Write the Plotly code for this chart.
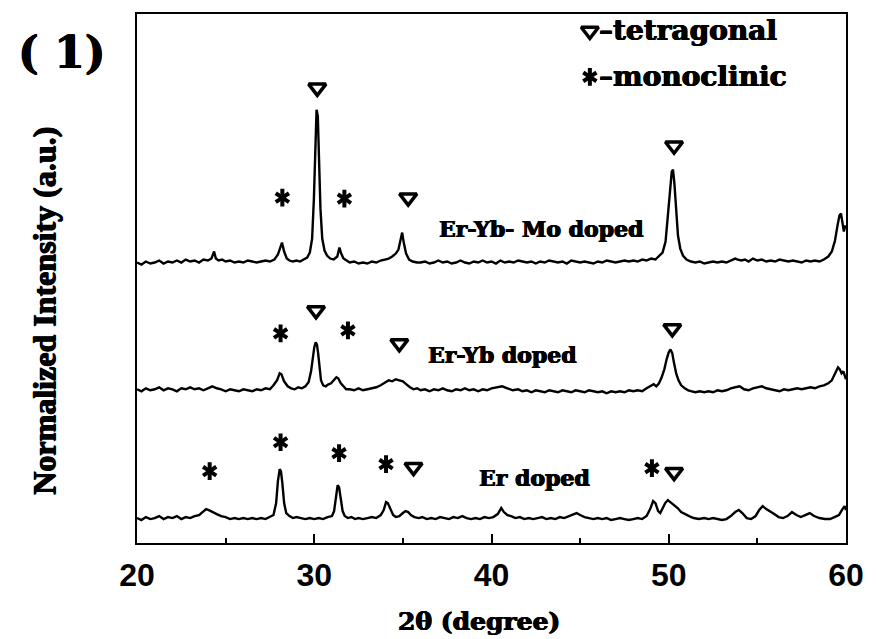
import plotly.graph_objects as go

# ---------------- data ----------------
# y values are in arbitrary "normalized intensity" units (stacked offsets)
er_yb_mo = [(20.0,281),(20.25,279),(20.5,282),(20.75,280),(21.0,281),(21.25,283),(21.5,280),(21.75,282),(22.0,281),(22.25,283),(22.5,281),(22.75,284),(23.0,282),(23.25,283),(23.5,281),(23.75,284),(24.0,283),(24.2,285),(24.35,292),(24.45,285),(24.6,283),(24.8,284),(25.0,282),(25.25,283),(25.5,281),(25.75,282),(26.0,281),(26.25,283),(26.5,282),(26.75,281),(27.0,282),(27.25,283),(27.5,282),(27.75,284),(27.95,289),(28.08,297),(28.18,301),(28.3,292),(28.45,285),(28.6,283),(28.8,282),(29.0,283),(29.2,282),(29.4,284),(29.6,286),(29.75,291),(29.88,305),(29.98,345),(30.06,405),(30.13,434),(30.2,428),(30.27,385),(30.35,335),(30.45,305),(30.58,293),(30.72,288),(30.9,285),(31.1,284),(31.3,287),(31.42,296),(31.52,290),(31.65,285),(31.8,283),(32.0,281),(32.25,282),(32.5,280),(32.75,281),(33.0,280),(33.25,282),(33.5,281),(33.75,283),(34.0,284),(34.2,285),(34.4,287),(34.6,290),(34.75,294),(34.88,304),(34.96,311),(35.05,301),(35.18,290),(35.35,284),(35.55,282),(35.8,281),(36.0,281),(36.25,282),(36.5,280),(36.75,281),(37.0,283),(37.25,281),(37.5,282),(37.75,280),(38.0,281),(38.25,283),(38.5,281),(38.75,280),(39.0,282),(39.25,281),(39.5,283),(39.75,281),(40.0,282),(40.25,280),(40.5,283),(40.75,281),(41.0,282),(41.25,281),(41.5,283),(41.75,282),(42.0,281),(42.25,282),(42.5,280),(42.75,282),(43.0,281),(43.25,283),(43.5,282),(43.75,281),(44.0,282),(44.25,280),(44.5,283),(44.75,282),(45.0,281),(45.25,282),(45.5,281),(45.75,280),(46.0,282),(46.25,281),(46.5,283),(46.75,282),(47.0,281),(47.25,282),(47.5,283),(47.75,282),(48.0,283),(48.25,282),(48.5,284),(48.75,283),(49.0,285),(49.25,284),(49.45,287),(49.65,291),(49.82,302),(49.95,325),(50.07,352),(50.17,372),(50.24,374),(50.32,360),(50.42,330),(50.52,308),(50.65,295),(50.8,288),(51.0,284),(51.25,282),(51.5,281),(51.75,282),(52.0,280),(52.25,281),(52.5,282),(52.75,281),(53.0,282),(53.25,281),(53.5,283),(53.75,285),(53.9,284),(54.1,283),(54.3,284),(54.5,282),(54.75,285),(55.0,283),(55.25,284),(55.5,282),(55.75,283),(56.0,282),(56.25,284),(56.5,283),(56.75,282),(57.0,283),(57.25,282),(57.5,281),(57.75,283),(58.0,282),(58.25,283),(58.5,282),(58.75,284),(59.0,287),(59.2,292),(59.38,303),(59.52,318),(59.63,328),(59.72,330),(59.8,322),(59.88,312),(59.95,318),(60.0,315)]

er_yb = [(20.0,154),(20.25,152),(20.5,155),(20.75,153),(21.0,154),(21.25,156),(21.5,153),(21.75,155),(22.0,154),(22.25,152),(22.5,155),(22.75,154),(23.0,156),(23.25,154),(23.5,155),(23.75,153),(24.0,155),(24.25,157),(24.5,155),(24.75,154),(25.0,152),(25.25,154),(25.5,153),(25.75,152),(26.0,154),(26.25,153),(26.5,152),(26.75,154),(27.0,153),(27.25,155),(27.5,154),(27.7,158),(27.9,163),(28.05,170),(28.15,169),(28.3,162),(28.5,157),(28.7,155),(28.9,154),(29.1,156),(29.3,155),(29.5,157),(29.68,161),(29.82,172),(29.92,186),(30.0,196),(30.08,201),(30.15,199),(30.22,190),(30.3,176),(30.38,163),(30.5,158),(30.65,157),(30.8,159),(30.95,160),(31.1,163),(31.25,166),(31.35,165),(31.5,160),(31.65,157),(31.8,154),(32.0,154),(32.25,153),(32.5,155),(32.75,153),(33.0,154),(33.25,155),(33.5,156),(33.75,158),(34.0,161),(34.2,163),(34.4,162),(34.6,164),(34.8,163),(35.0,162),(35.2,159),(35.4,156),(35.6,154),(35.8,155),(36.0,153),(36.25,154),(36.5,152),(36.75,154),(37.0,153),(37.25,155),(37.5,153),(37.75,152),(38.0,154),(38.25,153),(38.5,155),(38.75,153),(39.0,154),(39.25,152),(39.5,154),(39.75,153),(40.0,155),(40.3,156),(40.6,157),(40.9,155),(41.2,153),(41.5,154),(41.75,152),(42.0,153),(42.25,151),(42.5,153),(42.75,152),(43.0,151),(43.25,153),(43.5,152),(43.75,151),(44.0,153),(44.25,152),(44.5,151),(44.75,153),(45.0,152),(45.25,151),(45.5,153),(45.75,152),(46.0,151),(46.25,152),(46.5,150),(46.75,152),(47.0,151),(47.25,152),(47.5,151),(47.75,153),(48.0,152),(48.25,153),(48.5,152),(48.75,155),(49.0,157),(49.15,159),(49.3,157),(49.45,160),(49.6,166),(49.75,174),(49.88,184),(50.0,191),(50.1,194),(50.2,190),(50.3,180),(50.42,170),(50.55,163),(50.7,158),(50.9,155),(51.1,153),(51.3,152),(51.5,151),(51.75,152),(52.0,151),(52.25,152),(52.5,151),(52.75,153),(53.0,152),(53.25,153),(53.5,155),(53.75,156),(54.0,157),(54.25,154),(54.5,153),(54.75,155),(55.0,156),(55.25,157),(55.5,155),(55.75,154),(56.0,153),(56.25,152),(56.5,154),(56.75,153),(57.0,154),(57.25,155),(57.5,154),(57.75,155),(58.0,156),(58.25,155),(58.5,157),(58.75,158),(59.0,160),(59.2,163),(59.4,170),(59.55,176),(59.65,174),(59.75,170),(59.85,172),(59.95,166),(60.0,164)]

er = [(20.0,25),(20.25,23),(20.5,26),(20.75,24),(21.0,25),(21.25,27),(21.5,24),(21.75,26),(22.0,25),(22.25,27),(22.5,24),(22.75,26),(23.0,25),(23.25,27),(23.5,28),(23.7,31),(23.9,34),(24.05,33),(24.25,31),(24.5,29),(24.75,27),(25.0,26),(25.25,24),(25.5,25),(25.75,24),(26.0,25),(26.25,24),(26.5,25),(26.75,24),(27.0,25),(27.25,24),(27.5,26),(27.7,28),(27.85,40),(27.95,62),(28.05,74),(28.12,72),(28.2,60),(28.3,40),(28.42,30),(28.6,27),(28.8,25),(29.0,26),(29.25,25),(29.5,24),(29.75,25),(30.0,24),(30.25,25),(30.5,24),(30.75,26),(31.0,27),(31.12,32),(31.22,45),(31.32,58),(31.4,56),(31.5,44),(31.6,32),(31.72,27),(31.9,25),(32.1,26),(32.3,24),(32.5,25),(32.75,24),(33.0,25),(33.25,26),(33.5,25),(33.75,28),(33.92,33),(34.05,41),(34.15,40),(34.3,33),(34.45,28),(34.6,26),(34.8,27),(35.0,30),(35.15,32),(35.3,31),(35.45,28),(35.65,26),(35.9,25),(36.1,26),(36.35,24),(36.6,25),(36.85,24),(37.1,26),(37.35,25),(37.6,24),(37.85,26),(38.1,25),(38.35,27),(38.6,25),(38.85,24),(39.1,25),(39.35,24),(39.6,26),(39.85,25),(40.1,26),(40.35,29),(40.55,35),(40.7,31),(40.9,28),(41.1,27),(41.35,25),(41.6,26),(41.85,24),(42.1,25),(42.35,24),(42.6,25),(42.85,26),(43.1,24),(43.35,25),(43.6,24),(43.85,26),(44.1,25),(44.35,27),(44.6,29),(44.8,30),(45.0,28),(45.25,26),(45.5,25),(45.75,24),(46.0,25),(46.25,24),(46.5,25),(46.75,23),(47.0,24),(47.25,25),(47.5,24),(47.75,23),(48.0,24),(48.25,25),(48.5,24),(48.75,27),(48.95,34),(49.12,42),(49.25,40),(49.4,32),(49.52,30),(49.65,34),(49.8,40),(49.95,43),(50.1,41),(50.3,38),(50.5,35),(50.7,31),(50.9,29),(51.15,27),(51.4,25),(51.7,24),(52.0,25),(52.25,24),(52.5,25),(52.75,24),(53.0,23),(53.25,24),(53.5,27),(53.75,31),(53.95,33),(54.15,30),(54.4,25),(54.65,24),(54.9,27),(55.1,33),(55.3,37),(55.5,34),(55.7,32),(55.95,29),(56.2,26),(56.45,25),(56.7,27),(56.95,31),(57.2,28),(57.45,26),(57.7,28),(57.95,30),(58.2,27),(58.5,25),(58.8,24),(59.1,24),(59.35,26),(59.6,28),(59.8,34),(59.92,37),(60.0,33)]

# phase markers (peak label positions)
tetragonal_marks = [(30.17,456),(35.3,346),(50.3,398),(30.1,233),(34.8,200),(50.2,215),(35.6,76),(50.3,71)]
monoclinic_marks = [(28.2,346),(31.7,345),(28.1,210),(31.9,213),(24.1,72),(28.1,101),(31.4,90),(34.05,79),(49.05,75)]

# sample labels: (text, x, y)
sample_labels = [("Er-Yb- Mo doped", 42.78, 315), ("Er-Yb doped", 40.6, 188), ("Er doped", 42.4, 65)]

# legend entries
legend_x = 45.55
legend_tetra_y = 513
legend_mono_y = 467
legend_text_x = 45.95

x_ticks = [20, 30, 40, 50, 60]
x_range = [20, 60]
y_range = [0, 530]

SERIF = "DejaVu Serif"
HEAVY = "0.6px 0px 0px black, -0.6px 0px 0px black, 0px 0.4px 0px black"


def sfont(size, family=SERIF):
    return dict(family=family, size=size, color="black", weight="bold", shadow=HEAVY)


fig = go.Figure()
for series in (er_yb_mo, er_yb, er):
    fig.add_trace(go.Scatter(
        x=[p[0] for p in series], y=[p[1] for p in series],
        mode="lines", line=dict(color="black", width=2.4), hoverinfo="skip"))

tx = [p[0] for p in tetragonal_marks] + [legend_x]
ty = [p[1] for p in tetragonal_marks] + [legend_tetra_y]
fig.add_trace(go.Scatter(x=tx, y=ty, mode="markers",
                         marker=dict(symbol="triangle-down-open", size=15,
                                     line=dict(color="black", width=3.5), color="black")))
mx = [p[0] for p in monoclinic_marks] + [legend_x]
my = [p[1] for p in monoclinic_marks] + [legend_mono_y]
for sym in ("y-up-open", "y-down-open"):
    fig.add_trace(go.Scatter(x=mx, y=my, mode="markers",
                             marker=dict(symbol=sym, size=11,
                                         line=dict(color="black", width=4), color="black")))

for text, x, y in sample_labels:
    fig.add_annotation(x=x, y=y, text=text, showarrow=False, font=sfont(22),
                       xanchor="center", yanchor="middle")

fig.add_annotation(x=legend_text_x, y=legend_tetra_y, text="–tetragonal", showarrow=False,
                   font=sfont(28), xanchor="left", yanchor="middle")
fig.add_annotation(x=legend_text_x, y=legend_mono_y, text="–monoclinic", showarrow=False,
                   font=sfont(28), xanchor="left", yanchor="middle")

fig.add_annotation(xref="paper", yref="paper", x=-0.106, y=0.928, text="( 1)", showarrow=False,
                   font=sfont(44), xanchor="center", yanchor="middle")
fig.add_annotation(xref="paper", yref="paper", x=0.482, y=-0.149, text="2θ (degree)", showarrow=False,
                   font=sfont(25), xanchor="center", yanchor="middle")
fig.add_annotation(xref="paper", yref="paper", x=-0.1306, y=0.44, text="Normalized Intensity (a.u.)",
                   showarrow=False, textangle=-90, font=sfont(32, "Liberation Serif"),
                   xanchor="center", yanchor="middle")

fig.update_layout(
    width=876, height=639,
    margin=dict(l=137, r=19, t=13, b=96),
    plot_bgcolor="white", paper_bgcolor="white",
    showlegend=False,
    xaxis=dict(range=x_range, tickvals=x_ticks, ticktext=[str(t) for t in x_ticks],
               ticks="inside", ticklen=9, tickwidth=2, tickcolor="black",
               showline=True, linewidth=2, linecolor="black", mirror=True,
               showgrid=False, zeroline=False, ticklabelstandoff=3,
               tickfont=dict(family="Liberation Sans", size=32, color="black", weight="bold"),
               minor=dict(ticks="inside", ticklen=5, tickwidth=2, tickcolor="black", dtick=5, tick0=20,
                          showgrid=False)),
    yaxis=dict(range=y_range, showticklabels=False, ticks="",
               showline=True, linewidth=2, linecolor="black", mirror=True,
               showgrid=False, zeroline=False),
)

fig.write_html("out.html")
